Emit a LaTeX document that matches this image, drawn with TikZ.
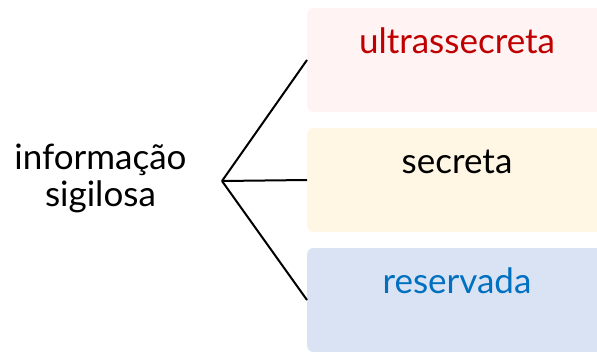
\documentclass[tikz,border=0pt]{standalone}
\usepackage{fontspec}
\setmainfont{Lato}
\usetikzlibrary{positioning}
\definecolor{ultrafill}{HTML}{FFF3F4}
\definecolor{secfill}{HTML}{FFF7E3}
\definecolor{resfill}{HTML}{DAE3F3}
\definecolor{ultratext}{HTML}{C00000}
\definecolor{restext}{HTML}{0070C0}

\begin{document}
\begin{tikzpicture}[x=1pt, y=-1pt,
  classbox/.style={rounded corners=6pt, minimum width=300pt, minimum height=104pt, inner sep=0pt},
  classtext/.style={font=\fontsize{35}{37}\selectfont, anchor=base},
  branch/.style={line width=2pt}]
  \useasboundingbox (0,0) rectangle (597,351);
  \clip (0,0) rectangle (597,351);

  % Root
  \node[align=center, font=\fontsize{35}{37}\selectfont] (root) at (100.5,178) {informação\\sigilosa};
  \coordinate (fork) at (222,181);

  % Boxes
  \node[classbox, fill=ultrafill, anchor=west] (ultra) at (307,60) {};
  \node[classbox, fill=secfill, anchor=west] (secr) at (307,180) {};
  \node[classbox, fill=resfill, anchor=west] (reserv) at (307,300) {};

  % Labels
  \node[classtext, text=ultratext] (ultralabel) at (457,53) {ultrassecreta};
  \node[classtext] (secrlabel) at (457,173) {secreta};
  \node[classtext, text=restext] (reservlabel) at (457,293) {reservada};

  % Branches
  \draw[branch] (fork) -- (ultra.west);
  \draw[branch] (fork) -- (secr.west);
  \draw[branch] (fork) -- (reserv.west);
\end{tikzpicture}
\end{document}
